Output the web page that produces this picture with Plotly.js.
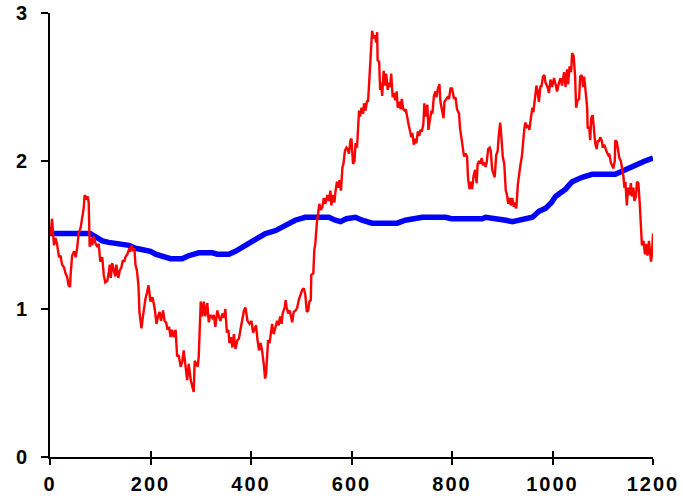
<!DOCTYPE html>
<html>
<head>
<meta charset="utf-8">
<script src="https://cdn.plot.ly/plotly-3.0.1.min.js"></script>
<style>
html,body{margin:0;padding:0;background:#fff;}
#chart{width:683px;height:498px;}
.xtick text{letter-spacing:2px;}
</style>
</head>
<body>
<div id="chart"></div>
<script>
// Red series (noisy)
var redX = [0,2,4,6,8,11,14,18,21,24,28,31,34,37,40,41,44,48,51,54,57,61,64,67,69,72,75,77,79,81,84,87,91,94,97,100,104,107,110,114,117,119,121,124,127,130,132,136,139,142,145,148,150,154,157,160,162,165,168,170,173,176,178,180,182,185,188,190,193,196,200,204,208,212,215,218,221,225,228,231,234,237,240,243,246,250,253,256,260,263,266,270,273,276,280,283,286,288,291,294,296,300,303,306,309,313,316,319,323,326,329,333,336,339,343,346,349,352,355,357,360,363,366,369,373,376,379,383,386,389,393,397,401,404,408,410,413,416,419,422,426,428,430,432,434,437,439,442,445,449,452,455,458,461,463,467,469,471,474,477,479,482,485,489,492,495,499,502,505,508,511,514,516,519,520,524,526,528,531,534,536,539,542,545,548,552,555,558,560,563,566,568,571,574,576,579,582,584,587,590,592,595,598,600,603,606,608,611,613,615,617,620,623,625,628,631,633,636,638,641,644,647,649,651,652,655,657,659,661,664,666,669,672,674,677,679,682,684,687,690,692,695,698,700,703,706,708,711,714,716,719,721,724,727,729,732,735,737,740,743,745,748,751,753,756,759,761,764,767,769,772,775,777,780,783,785,788,791,794,797,800,804,807,810,814,816,819,822,824,827,830,832,835,838,840,843,846,849,851,854,856,859,862,864,867,869,872,875,877,880,883,885,888,891,893,896,899,901,904,907,909,912,915,917,920,923,925,928,931,933,936,939,941,944,946,949,952,954,957,960,962,965,968,970,973,976,978,981,984,986,990,993,996,999,1003,1006,1009,1013,1016,1019,1023,1026,1029,1031,1034,1037,1039,1042,1045,1047,1050,1053,1055,1058,1061,1063,1066,1069,1070,1073,1075,1077,1080,1083,1085,1088,1090,1092,1095,1098,1100,1103,1106,1108,1111,1113,1116,1119,1121,1124,1125,1128,1130,1133,1136,1138,1141,1143,1145,1148,1150,1153,1156,1158,1161,1163,1166,1168,1171,1174,1176,1178,1181,1184,1186,1189,1192,1194,1196,1198,1200];
var redY = [1.50,1.53,1.61,1.47,1.43,1.48,1.44,1.35,1.36,1.30,1.28,1.24,1.22,1.16,1.15,1.23,1.36,1.39,1.35,1.41,1.51,1.55,1.62,1.68,1.77,1.75,1.76,1.72,1.42,1.48,1.43,1.49,1.44,1.42,1.44,1.32,1.35,1.23,1.18,1.19,1.25,1.30,1.21,1.31,1.26,1.22,1.30,1.21,1.26,1.28,1.33,1.32,1.35,1.37,1.40,1.39,1.43,1.40,1.41,1.30,1.26,1.16,0.98,0.92,0.87,0.95,1.05,1.07,1.11,1.16,1.05,1.08,1.01,0.90,0.95,0.98,0.92,0.99,0.92,0.91,0.86,0.88,0.81,0.86,0.81,0.86,0.68,0.69,0.61,0.64,0.72,0.59,0.52,0.63,0.52,0.48,0.44,0.65,0.63,0.61,0.68,1.05,0.95,1.05,0.95,1.04,0.91,0.96,0.94,0.96,0.88,0.99,0.95,0.92,0.97,0.94,1.00,0.84,0.86,0.77,0.81,0.74,0.83,0.73,0.79,0.80,0.86,0.95,0.99,1.01,0.92,0.90,0.92,0.84,0.88,0.89,0.79,0.72,0.77,0.72,0.61,0.53,0.56,0.70,0.79,0.77,0.83,0.90,0.83,0.88,0.92,0.89,0.95,0.90,0.97,1.01,1.06,1.01,0.97,0.99,0.95,0.91,0.98,0.99,1.01,1.06,1.10,1.13,1.14,1.10,0.98,0.99,1.05,1.06,1.23,1.24,1.40,1.44,1.58,1.67,1.71,1.67,1.69,1.75,1.71,1.77,1.73,1.80,1.70,1.77,1.72,1.79,1.86,1.82,1.87,1.80,1.96,1.98,2.07,2.09,2.08,2.05,2.14,2.15,1.98,2.00,2.12,2.09,2.28,2.34,2.30,2.36,2.32,2.39,2.34,2.41,2.40,2.59,2.75,2.88,2.83,2.85,2.80,2.87,2.68,2.67,2.48,2.53,2.44,2.61,2.51,2.59,2.48,2.53,2.50,2.59,2.43,2.46,2.41,2.47,2.36,2.40,2.35,2.42,2.35,2.34,2.35,2.28,2.24,2.21,2.16,2.19,2.11,2.15,2.12,2.20,2.17,2.21,2.20,2.25,2.39,2.30,2.38,2.21,2.28,2.34,2.32,2.44,2.47,2.43,2.49,2.52,2.40,2.33,2.29,2.40,2.42,2.43,2.42,2.49,2.49,2.42,2.43,2.35,2.32,2.22,2.15,2.05,2.03,2.05,2.03,1.88,1.81,1.86,1.81,1.90,1.94,1.85,1.98,2.00,1.98,2.02,1.97,1.99,1.96,1.99,2.08,2.09,2.07,1.94,1.91,1.89,2.04,2.07,2.17,2.26,2.13,2.03,1.98,1.80,1.78,1.71,1.75,1.70,1.75,1.69,1.72,1.68,1.84,1.91,1.97,2.03,2.13,2.22,2.26,2.23,2.24,2.21,2.29,2.36,2.33,2.44,2.51,2.48,2.40,2.51,2.50,2.57,2.58,2.53,2.50,2.46,2.55,2.50,2.56,2.52,2.47,2.53,2.56,2.51,2.60,2.50,2.62,2.52,2.64,2.60,2.73,2.71,2.57,2.36,2.41,2.42,2.57,2.58,2.50,2.57,2.48,2.36,2.22,2.23,2.14,2.29,2.31,2.22,2.12,2.08,2.14,2.13,2.16,2.14,2.09,2.11,2.07,2.06,2.04,2.05,1.99,1.97,1.95,2.00,2.14,2.13,2.09,2.02,2.00,1.96,1.90,1.82,1.86,1.70,1.82,1.77,1.85,1.76,1.82,1.73,1.76,1.86,1.85,1.69,1.49,1.43,1.46,1.37,1.44,1.36,1.46,1.40,1.32,1.37,1.51];

// Blue series (smooth)
var blueX = [0,80,90,104,117,144,157,170,183,200,210,223,240,263,276,296,323,333,356,369,382,399,409,429,449,469,488,508,555,568,578,590,608,621,641,691,707,741,787,799,860,867,893,907,920,946,960,973,986,998,1006,1026,1039,1059,1079,1125,1145,1165,1184,1200];
var blueY = [1.51,1.51,1.49,1.46,1.45,1.44,1.43,1.41,1.40,1.39,1.37,1.36,1.34,1.34,1.36,1.38,1.38,1.37,1.37,1.39,1.42,1.45,1.47,1.51,1.53,1.57,1.60,1.62,1.62,1.60,1.59,1.61,1.62,1.60,1.58,1.58,1.60,1.62,1.62,1.61,1.61,1.62,1.61,1.60,1.59,1.61,1.62,1.66,1.68,1.72,1.76,1.81,1.86,1.89,1.91,1.91,1.94,1.98,2.00,2.02];

var xTicks = [0,200,400,600,800,1000,1200];
var yTicks = [0,1,2,3];

var tickFont = {family:'"Liberation Sans", Arial, sans-serif', size:20, weight:'bold', color:'#000'};

var traces = [
  {x: blueX, y: blueY, type:'scatter', mode:'lines', xaxis:'x', yaxis:'y',
   line:{color:'#0000ff', width:5.5}, hoverinfo:'skip'},
  {x: redX, y: redY, type:'scatter', mode:'lines', xaxis:'x2', yaxis:'y',
   line:{color:'#ff0000', width:2.4}, hoverinfo:'skip'}
];

var layout = {
  width:683, height:498,
  margin:{l:50, r:30, t:13, b:41},
  paper_bgcolor:'#fff', plot_bgcolor:'#fff',
  showlegend:false,
  xaxis:{range:[0,1200], tickvals:xTicks, ticks:'outside', ticklen:6, tickwidth:2, tickcolor:'#000',
         showline:true, linewidth:2, linecolor:'#000', showgrid:false, zeroline:false,
         tickfont:tickFont, ticklabelstandoff:2},
  xaxis2:{overlaying:'x', anchor:'y', side:'bottom', range:[0,1200], tickvals:xTicks, ticks:'inside', ticklen:6,
          tickwidth:2, tickcolor:'#000', showticklabels:false, showline:false, showgrid:false, zeroline:false},
  yaxis:{range:[0,3], tickvals:yTicks, ticks:'outside', ticklen:7, tickwidth:2, tickcolor:'#000',
         showline:true, linewidth:2, linecolor:'#000', showgrid:false, zeroline:false,
         tickfont:tickFont, ticklabelstandoff:10}
};

Plotly.newPlot('chart', traces, layout, {staticPlot:true, displayModeBar:false});
</script>
</body>
</html>
